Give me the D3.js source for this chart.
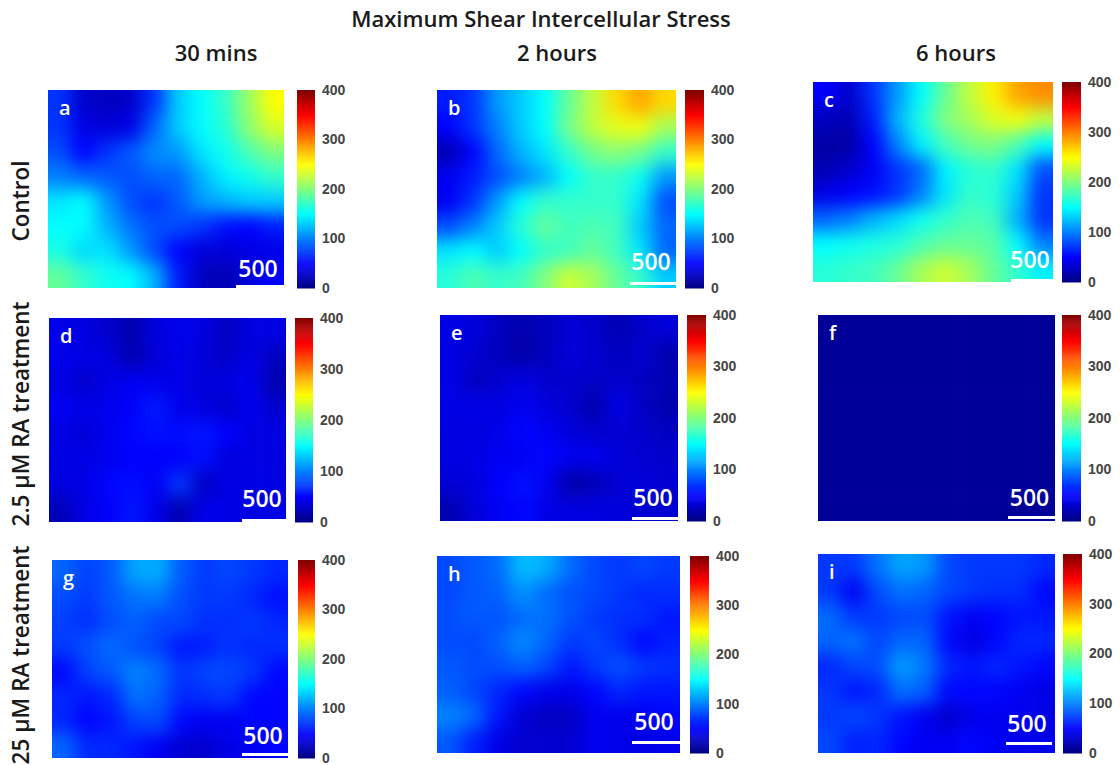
<!DOCTYPE html>
<html>
<head>
<meta charset="utf-8">
<script src="https://cdn.jsdelivr.net/npm/d3@7"></script>
<style>
body { margin: 0; background: #fff; }
text { font-family: "Open Sans", sans-serif; }
</style>
</head>
<body>
<div id="chart"></div>
<script>
// stress values, 8 rows of 10 cells for each panel
const stressA = [
    [70,30,25,30,70,130,150,170,210,250],
    [70,40,35,40,90,130,150,165,205,235],
    [80,50,70,85,105,110,140,155,180,200],
    [100,90,85,80,90,90,120,145,155,170],
    [140,150,110,80,70,85,110,120,130,130],
    [150,150,120,95,80,80,70,55,50,60],
    [160,135,140,110,80,50,35,35,40,40],
    [190,170,155,150,120,60,25,20,35,50]
];
const stressB = [
    [60,70,110,130,150,190,225,265,285,265],
    [50,70,100,130,150,195,225,240,245,215],
    [20,50,90,120,140,170,195,205,195,170],
    [45,60,80,100,120,150,170,170,155,110],
    [45,70,110,150,170,170,170,170,140,80],
    [80,100,130,165,190,175,180,175,130,90],
    [140,150,130,150,170,175,190,175,140,90],
    [165,180,170,175,200,230,215,190,170,130]
];
const stressC = [
    [50,30,70,110,150,190,225,255,285,295],
    [25,20,60,120,160,200,215,235,245,225],
    [15,15,50,100,145,175,195,200,180,150],
    [20,30,45,70,90,145,165,170,140,80],
    [40,50,55,70,100,140,170,165,130,70],
    [90,100,120,135,155,170,180,175,120,70],
    [150,155,160,165,180,190,190,185,150,100],
    [165,170,175,190,215,230,215,190,170,145]
];
const stressD = [
    [42,38,30,18,38,42,38,25,38,40],
    [42,40,38,18,35,42,35,28,40,25],
    [40,30,40,46,42,40,35,38,44,18],
    [46,40,44,48,60,42,38,30,44,30],
    [40,35,44,52,56,54,58,50,38,40],
    [40,40,44,50,50,48,56,36,40,38],
    [38,40,52,55,46,72,25,40,40,40],
    [22,40,48,58,42,18,42,40,38,40]
];
const stressE = [
    [40,36,25,18,25,34,30,20,30,36],
    [38,32,24,15,25,36,32,24,32,18],
    [40,24,32,38,30,30,28,30,26,20],
    [40,40,38,44,36,32,16,42,26,18],
    [38,38,42,52,44,36,30,32,30,26],
    [38,40,44,46,52,44,44,36,32,30],
    [34,38,50,56,44,15,22,34,36,32],
    [20,36,46,52,40,38,38,36,32,32]
];
const stressF = [
    [10,10,10,10,10,10,10,10,10,10],
    [10,10,10,10,10,10,10,10,10,10],
    [10,10,10,10,10,10,10,10,10,10],
    [10,10,10,10,10,10,10,10,10,10],
    [10,10,10,10,10,10,10,10,10,10],
    [10,10,10,10,10,10,10,10,10,10],
    [10,10,10,10,10,10,10,10,10,10],
    [10,10,10,10,10,10,10,10,10,10]
];
const stressG = [
    [90,75,85,115,118,85,72,78,72,65],
    [80,72,85,95,98,80,72,72,65,55],
    [75,68,80,88,78,78,68,68,72,65],
    [72,82,92,82,76,58,62,70,65,68],
    [52,76,85,102,92,70,78,78,72,52],
    [65,58,65,95,88,65,68,72,52,52],
    [65,50,58,76,80,52,45,45,52,52],
    [90,65,65,58,45,32,32,40,45,52]
];
const stressH = [
    [78,85,92,125,118,92,78,72,78,72],
    [78,85,88,108,92,82,78,72,65,68],
    [80,85,82,92,95,82,72,68,68,58],
    [80,78,88,105,90,72,78,68,52,62],
    [85,80,80,88,78,58,72,82,72,68],
    [88,78,65,52,42,42,52,65,58,58],
    [102,92,58,32,26,26,45,42,45,52],
    [85,62,40,32,32,32,45,42,40,42]
];
const stressI = [
    [72,72,95,115,110,78,72,72,72,65],
    [72,45,80,95,90,78,72,68,68,52],
    [92,72,72,78,80,58,45,52,58,58],
    [90,95,78,90,90,52,38,52,65,65],
    [65,78,80,112,98,65,58,65,58,52],
    [72,58,65,95,88,52,52,52,45,40],
    [72,78,72,58,45,30,42,45,45,40],
    [78,62,65,52,45,45,52,45,42,42]
];
const panelLetters = ["a","b","c","d","e","f","g","h","i"];
const panelValues = [stressA,stressB,stressC,stressD,stressE,stressF,stressG,stressH,stressI];
const colorTicks = [0,100,200,300,400];
const columnTitles = ["30 mins","2 hours","6 hours"];
const rowTitles = ["Control","2.5 µM RA treatment","25 µM RA treatment"];
const jetStops = [0,50,150,200,250,350,400];
const jetColors = ["#000080","#0000ff","#00ffff","#80ff80","#ffff00","#ff0000","#800000"];

// where each panel sits on the page: left, right, top, bottom, colorbar left, colorbar right
const panelBoxes = [
    [48,284,90,288,297,315],
    [437,676,90,288,685,704],
    [813,1053,82,282,1062,1081],
    [49,286,318,522,295,313],
    [440,678,315,521,687,706],
    [818,1055,315,521,1062,1081],
    [52,288,560,758,298,315],
    [437,680,556,753,690,709],
    [818,1055,554,753,1063,1082]
];
// scale bar of each panel: left, right, top, label baseline
const scaleBars = [
    [236,284,285,277],
    [630,676,282,270],
    [1011,1053,279,268],
    [242,286,519,507],
    [632,678,517,506],
    [1008,1055,516,506],
    [242,288,753,744],
    [632,680,741,730],
    [1006,1052,742,732]
];

const svg = d3.select("#chart").append("svg")
    .attr("width", 1120)
    .attr("height", 765);

const color = d3.scaleLinear().domain(jetStops).range(jetColors).clamp(true);

const defs = svg.append("defs");
defs.append("filter")
    .attr("id", "smooth")
    .attr("filterUnits", "userSpaceOnUse")
    .attr("x", 0).attr("y", 0).attr("width", 1120).attr("height", 765)
    .attr("color-interpolation-filters", "sRGB")
    .append("feGaussianBlur")
    .attr("stdDeviation", 9);

svg.append("text")
    .attr("x", 541).attr("y", 27)
    .attr("text-anchor", "middle")
    .attr("font-size", 22).attr("font-weight", 600).attr("fill", "#1a1a1a")
    .text("Maximum Shear Intercellular Stress");

const titleX = [216,557,956];
columnTitles.forEach((t, i) => {
    svg.append("text")
        .attr("x", titleX[i]).attr("y", 61)
        .attr("text-anchor", "middle")
        .attr("font-size", 22).attr("font-weight", 600).attr("fill", "#1a1a1a")
        .text(t);
});

const rowTitleY = [201,414,655];
rowTitles.forEach((t, i) => {
    svg.append("text")
        .attr("transform", "translate(29," + rowTitleY[i] + ") rotate(-90)")
        .attr("text-anchor", "middle")
        .attr("font-size", 22.5).attr("font-weight", 600).attr("fill", "#1a1a1a")
        .text(t);
});

panelValues.forEach((grid, p) => {
    const [x0, x1, y0, y1, barX0, barX1] = panelBoxes[p];
    const x = d3.scaleBand().domain(d3.range(grid[0].length)).range([x0, x1]);
    const y = d3.scaleBand().domain(d3.range(grid.length)).range([y0, y1]);

    defs.append("clipPath").attr("id", "clip" + p)
        .append("rect")
        .attr("x", x0).attr("y", y0)
        .attr("width", x1 - x0).attr("height", y1 - y0);

    const cells = grid.flatMap((row, r) => row.map((v, c) => ({r: r, c: c, v: v})));

    // outer cells run past the clip so the blur does not fade at the edges
    const pad = 40;
    svg.append("g")
        .attr("clip-path", "url(#clip" + p + ")")
        .append("g")
        .attr("filter", "url(#smooth)")
        .selectAll("rect")
        .data(cells)
        .join("rect")
        .attr("x", d => x(d.c) - (d.c == 0 ? pad : 0))
        .attr("y", d => y(d.r) - (d.r == 0 ? pad : 0))
        .attr("width", d => x.bandwidth() + 0.5 + (d.c == 0 || d.c == grid[0].length - 1 ? pad : 0))
        .attr("height", d => y.bandwidth() + 0.5 + (d.r == 0 || d.r == grid.length - 1 ? pad : 0))
        .attr("fill", d => color(d.v));

    // colorbar
    const barY = d3.scaleLinear().domain([0, 400]).range([y1, y0]);
    svg.append("g")
        .selectAll("rect")
        .data(d3.range(0, 400, 2))
        .join("rect")
        .attr("x", barX0)
        .attr("y", d => barY(d + 2))
        .attr("width", barX1 - barX0)
        .attr("height", d => barY(d) - barY(d + 2) + 0.5)
        .attr("fill", d => color(d + 1));

    const axis = svg.append("g")
        .attr("transform", "translate(" + barX1 + ",0)")
        .call(d3.axisRight(barY).tickValues(colorTicks).tickSize(0).tickPadding(7));
    axis.select(".domain").remove();
    axis.selectAll("text")
        .style("font-family", "'Liberation Sans', sans-serif")
        .attr("font-size", 14).attr("font-weight", 700).attr("fill", "#444");

    // letter, scale bar and its label
    svg.append("text")
        .attr("x", x0 + 11).attr("y", y0 + 25)
        .attr("font-size", 20).attr("font-weight", 600).attr("fill", "#fff")
        .text(panelLetters[p]);

    const [sbLeft, sbRight, sbTop, sbText] = scaleBars[p];
    svg.append("rect")
        .attr("x", sbLeft).attr("y", sbTop)
        .attr("width", sbRight - sbLeft).attr("height", 3)
        .attr("fill", "#fff");
    svg.append("text")
        .attr("x", (sbLeft + sbRight) / 2 - 2).attr("y", sbText)
        .attr("text-anchor", "middle")
        .attr("font-size", 23).attr("font-weight", 600).attr("fill", "#fff")
        .text("500");
});
</script>
</body>
</html>
